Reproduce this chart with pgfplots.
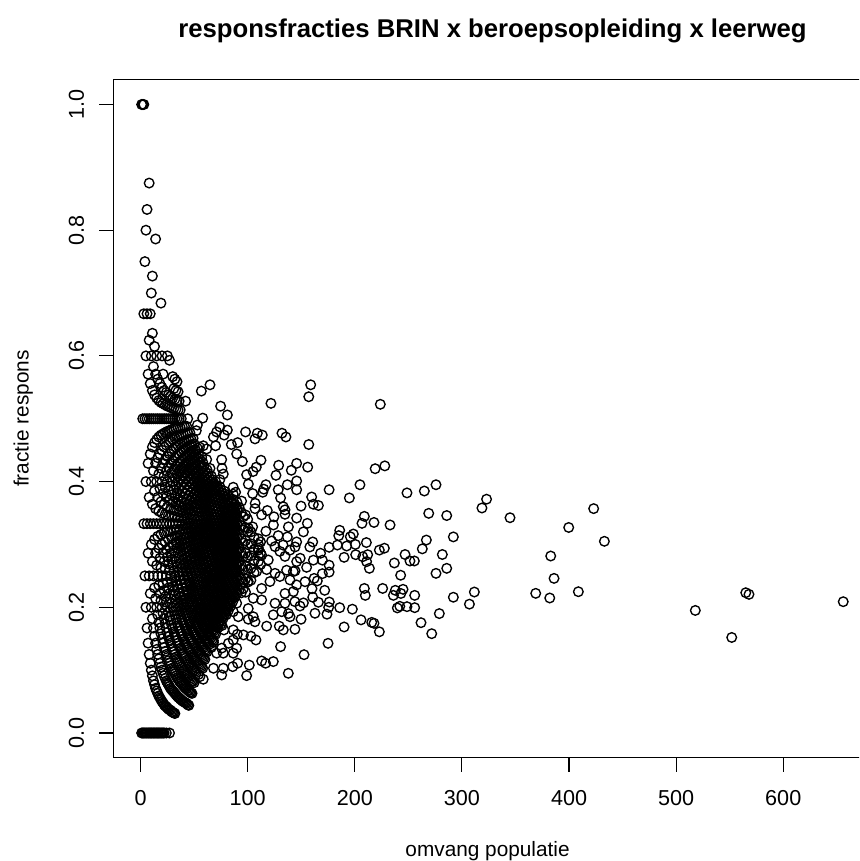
\documentclass[border=0pt]{standalone}
\usepackage{pgfplots}
\pgfplotsset{compat=1.18}
\usepackage{fontspec}
\setmainfont{Liberation Sans}
\begin{document}
\begin{tikzpicture}[x=1pt,y=1pt]
\path[use as bounding box] (0,0) rectangle (429.5,430.5);
\clip (0,0) rectangle (429.5,430.5);
\begin{axis}[
  at={(56.75pt,51.65pt)},anchor=south west,
  scale only axis,width=379pt,height=339.1pt,
  xmin=-25.3,xmax=682.4,ymin=-0.0393,ymax=1.0398,
  axis line style={line width=.55pt,black},
  tick style={line width=.55pt,black},
  tick align=outside,major tick length=7pt,
  xtick pos=bottom,ytick pos=left,
  xtick={0,100,200,300,400,500,600},
  ytick={0,0.2,0.4,0.6,0.8,1},
  /pgf/number format/assume math mode=true,
  /pgf/number format/fixed,/pgf/number format/fixed zerofill,
  yticklabel={\pgfmathprintnumber[fixed,fixed zerofill,precision=1]{\tick}},
  xticklabel={\pgfmathprintnumber[fixed,precision=0,1000 sep={}]{\tick}},
  tick label style={font=\fontsize{10.8}{12}\selectfont},
  yticklabel style={rotate=90,anchor=center,yshift=11.5pt},
  xticklabel style={anchor=center,yshift=-13pt},
  xlabel={omvang populatie},ylabel={fractie respons},
  label style={font=\fontsize{10.4}{12}\selectfont},
  xlabel style={at={(axis description cs:0.4935,-0.1376)},anchor=center},
  ylabel style={at={(axis description cs:-0.119,0.5)},anchor=center,rotate=0},
  title={responsfracties BRIN x beroepsopleiding x leerweg},
  title style={font=\fontsize{12.85}{14}\selectfont\bfseries,at={(axis description cs:0.5,1.0538)},anchor=center,yshift=0pt},
  clip=false,
]
\addplot[only marks,mark=o,black,mark size=2.4pt,mark options={line width=.68pt,fill=none}] coordinates {
(1,0)(1,1)(2,0)(2,.5)(2,1)(3,0)(3,.333)(3,.667)(3,1)
(4,0)(4,.25)(4,.5)(4,.75)(5,0)(5,.2)(5,.4)(5,.6)(5,.8)
(6,0)(6,.167)(6,.333)(6,.5)(6,.667)(6,.833)
(7,0)(7,.143)(7,.286)(7,.429)(7,.571)
(8,0)(8,.125)(8,.25)(8,.375)(8,.5)(8,.625)(8,.875)
(9,0)(9,.111)(9,.222)(9,.333)(9,.444)(9,.556)(9,.667)
(10,0)(10,.1)(10,.2)(10,.3)(10,.4)(10,.5)(10,.6)(10,.7)
(11,0)(11,.091)(11,.182)(11,.273)(11,.364)(11,.455)(11,.545)(11,.636)(11,.727)
(12,0)(12,.083)(12,.167)(12,.25)(12,.333)(12,.417)(12,.5)(12,.583)
(13,0)(13,.077)(13,.154)(13,.231)(13,.308)(13,.385)(13,.462)(13,.538)(13,.615)
(14,0)(14,.071)(14,.143)(14,.214)(14,.286)(14,.357)(14,.429)(14,.5)(14,.571)(14,.786)
(15,0)(15,.067)(15,.133)(15,.2)(15,.267)(15,.333)(15,.4)(15,.467)(15,.533)(15,.6)
(16,0)(16,.063)(16,.125)(16,.188)(16,.25)(16,.313)(16,.375)(16,.438)(16,.5)(16,.563)
(17,0)(17,.059)(17,.118)(17,.176)(17,.235)(17,.294)(17,.353)(17,.412)(17,.471)(17,.529)
(18,0)(18,.056)(18,.111)(18,.167)(18,.222)(18,.278)(18,.333)(18,.389)(18,.444)(18,.5)(18,.556)
(19,0)(19,.053)(19,.105)(19,.158)(19,.211)(19,.263)(19,.316)(19,.368)(19,.421)(19,.474)(19,.526)(19,.684)
(20,0)(20,.05)(20,.1)(20,.15)(20,.2)(20,.25)(20,.3)(20,.35)(20,.4)(20,.45)(20,.5)(20,.55)(20,.6)
(21,0)(21,.048)(21,.095)(21,.143)(21,.19)(21,.238)(21,.286)(21,.333)(21,.381)(21,.429)(21,.476)(21,.524)(21,.571)
(22,0)(22,.045)(22,.091)(22,.136)(22,.182)(22,.227)(22,.273)(22,.318)(22,.364)(22,.409)(22,.455)(22,.5)(22,.545)
(23,.043)(23,.087)(23,.13)(23,.174)(23,.217)(23,.261)(23,.304)(23,.348)(23,.391)(23,.435)(23,.478)(23,.522)
(24,0)(24,.042)(24,.083)(24,.125)(24,.167)(24,.208)(24,.25)(24,.292)(24,.333)(24,.375)(24,.417)(24,.458)(24,.5)(24,.542)
(25,.04)(25,.08)(25,.12)(25,.16)(25,.2)(25,.24)(25,.28)(25,.32)(25,.36)(25,.4)(25,.44)(25,.48)(25,.52)(25,.6)
(26,.038)(26,.077)(26,.115)(26,.154)(26,.192)(26,.231)(26,.269)(26,.308)(26,.346)(26,.385)(26,.423)(26,.462)(26,.5)(26,.538)
(27,0)(27,.037)(27,.074)(27,.111)(27,.148)(27,.185)(27,.222)(27,.259)(27,.296)(27,.333)(27,.37)(27,.407)(27,.444)(27,.481)(27,.519)(27,.593)
(28,.036)(28,.071)(28,.107)(28,.143)(28,.179)(28,.214)(28,.25)(28,.286)(28,.321)(28,.357)(28,.393)(28,.429)(28,.464)(28,.5)(28,.536)
(29,.034)(29,.069)(29,.103)(29,.138)(29,.172)(29,.207)(29,.241)(29,.276)(29,.31)(29,.345)(29,.379)(29,.414)(29,.448)(29,.483)(29,.517)
(30,.033)(30,.067)(30,.1)(30,.133)(30,.167)(30,.2)(30,.233)(30,.267)(30,.3)(30,.333)(30,.367)(30,.4)(30,.433)(30,.467)(30,.5)(30,.533)(30,.567)
(31,.032)(31,.065)(31,.097)(31,.129)(31,.161)(31,.194)(31,.226)(31,.258)(31,.29)(31,.323)(31,.355)(31,.387)(31,.419)(31,.452)(31,.484)(31,.516)(31,.548)
(32,.031)(32,.063)(32,.094)(32,.125)(32,.156)(32,.188)(32,.219)(32,.25)(32,.281)(32,.313)(32,.344)(32,.375)(32,.406)(32,.438)(32,.469)(32,.5)(32,.531)(32,.563)
(33,.061)(33,.091)(33,.121)(33,.152)(33,.182)(33,.212)(33,.242)(33,.273)(33,.303)(33,.333)(33,.364)(33,.394)(33,.424)(33,.455)(33,.485)(33,.515)(33,.545)
(34,.059)(34,.088)(34,.118)(34,.147)(34,.176)(34,.206)(34,.235)(34,.265)(34,.294)(34,.324)(34,.353)(34,.382)(34,.412)(34,.441)(34,.471)(34,.5)(34,.529)(34,.559)
(35,.057)(35,.086)(35,.114)(35,.143)(35,.171)(35,.2)(35,.229)(35,.257)(35,.286)(35,.314)(35,.343)(35,.371)(35,.4)(35,.429)(35,.457)(35,.486)(35,.514)(35,.543)
(36,.056)(36,.083)(36,.111)(36,.139)(36,.167)(36,.194)(36,.222)(36,.25)(36,.278)(36,.306)(36,.333)(36,.361)(36,.389)(36,.417)(36,.444)(36,.472)(36,.5)(36,.528)
(37,.054)(37,.081)(37,.108)(37,.135)(37,.162)(37,.189)(37,.216)(37,.243)(37,.27)(37,.297)(37,.324)(37,.351)(37,.378)(37,.405)(37,.432)(37,.459)(37,.486)(37,.514)
(38,.053)(38,.079)(38,.105)(38,.132)(38,.158)(38,.184)(38,.211)(38,.237)(38,.263)(38,.289)(38,.316)(38,.342)(38,.368)(38,.395)(38,.421)(38,.447)(38,.474)(38,.5)
(39,.051)(39,.077)(39,.103)(39,.128)(39,.154)(39,.179)(39,.205)(39,.231)(39,.256)(39,.282)(39,.308)(39,.333)(39,.359)(39,.385)(39,.41)(39,.436)(39,.462)(39,.487)
(40,.05)(40,.075)(40,.1)(40,.125)(40,.15)(40,.175)(40,.2)(40,.225)(40,.25)(40,.275)(40,.3)(40,.325)(40,.35)(40,.375)(40,.4)(40,.425)(40,.45)(40,.475)
(41,.049)(41,.073)(41,.098)(41,.122)(41,.146)(41,.171)(41,.195)(41,.22)(41,.244)(41,.268)(41,.293)(41,.317)(41,.341)(41,.366)(41,.39)(41,.415)(41,.439)(41,.463)(41,.488)
(42,.048)(42,.071)(42,.095)(42,.119)(42,.143)(42,.167)(42,.19)(42,.214)(42,.238)(42,.262)(42,.286)(42,.31)(42,.333)(42,.357)(42,.381)(42,.405)(42,.429)(42,.452)(42,.476)(42,.528)
(43,.047)(43,.07)(43,.093)(43,.116)(43,.14)(43,.163)(43,.186)(43,.209)(43,.233)(43,.256)(43,.279)(43,.302)(43,.326)(43,.349)(43,.372)(43,.395)(43,.419)(43,.442)(43,.465)(43,.488)
(44,.045)(44,.068)(44,.091)(44,.114)(44,.136)(44,.159)(44,.182)(44,.205)(44,.227)(44,.25)(44,.273)(44,.295)(44,.318)(44,.341)(44,.364)(44,.386)(44,.409)(44,.432)(44,.455)(44,.477)(44,.5)
(45,.044)(45,.067)(45,.089)(45,.111)(45,.133)(45,.156)(45,.178)(45,.2)(45,.222)(45,.244)(45,.267)(45,.289)(45,.311)(45,.333)(45,.356)(45,.378)(45,.4)(45,.422)(45,.444)(45,.467)
(46,.065)(46,.087)(46,.109)(46,.13)(46,.152)(46,.174)(46,.196)(46,.217)(46,.239)(46,.261)(46,.283)(46,.304)(46,.326)(46,.348)(46,.37)(46,.391)(46,.413)(46,.435)(46,.457)(46,.478)
(47,.064)(47,.085)(47,.106)(47,.128)(47,.149)(47,.17)(47,.191)(47,.213)(47,.234)(47,.255)(47,.277)(47,.298)(47,.319)(47,.34)(47,.362)(47,.383)(47,.404)(47,.426)(47,.447)(47,.468)
(48,.063)(48,.083)(48,.104)(48,.125)(48,.146)(48,.167)(48,.188)(48,.208)(48,.229)(48,.25)(48,.271)(48,.292)(48,.313)(48,.333)(48,.354)(48,.375)(48,.396)(48,.417)(48,.438)(48,.458)
(49,.082)(49,.102)(49,.122)(49,.143)(49,.163)(49,.184)(49,.204)(49,.224)(49,.245)(49,.265)(49,.286)(49,.306)(49,.327)(49,.347)(49,.367)(49,.388)(49,.408)(49,.429)(49,.449)(49,.469)
(50,.08)(50,.1)(50,.12)(50,.14)(50,.16)(50,.18)(50,.2)(50,.22)(50,.24)(50,.26)(50,.28)(50,.3)(50,.32)(50,.34)(50,.36)(50,.38)(50,.4)(50,.42)(50,.44)(50,.46)
(51,.098)(51,.118)(51,.137)(51,.157)(51,.176)(51,.196)(51,.216)(51,.235)(51,.255)(51,.275)(51,.294)(51,.314)(51,.333)(51,.353)(51,.373)(51,.392)(51,.412)(51,.431)(51,.451)
(52,.096)(52,.115)(52,.135)(52,.154)(52,.173)(52,.192)(52,.212)(52,.231)(52,.25)(52,.269)(52,.288)(52,.308)(52,.327)(52,.346)(52,.365)(52,.385)(52,.404)(52,.423)(52,.442)(52,.481)
(53,.113)(53,.132)(53,.151)(53,.17)(53,.189)(53,.208)(53,.226)(53,.245)(53,.264)(53,.283)(53,.302)(53,.321)(53,.34)(53,.358)(53,.377)(53,.396)(53,.415)(53,.434)(53,.453)
(54,.093)(54,.111)(54,.13)(54,.148)(54,.167)(54,.185)(54,.204)(54,.222)(54,.241)(54,.259)(54,.278)(54,.296)(54,.315)(54,.333)(54,.352)(54,.37)(54,.389)(54,.407)(54,.426)(54,.444)
(55,.109)(55,.127)(55,.145)(55,.164)(55,.182)(55,.2)(55,.218)(55,.236)(55,.255)(55,.273)(55,.291)(55,.309)(55,.327)(55,.345)(55,.364)(55,.382)(55,.4)(55,.418)(55,.436)(55,.455)
(56,.107)(56,.125)(56,.143)(56,.161)(56,.179)(56,.196)(56,.214)(56,.232)(56,.25)(56,.268)(56,.286)(56,.304)(56,.321)(56,.339)(56,.357)(56,.375)(56,.393)(56,.411)(56,.429)
(57,.105)(57,.123)(57,.14)(57,.158)(57,.175)(57,.193)(57,.211)(57,.228)(57,.246)(57,.263)(57,.281)(57,.298)(57,.316)(57,.333)(57,.351)(57,.368)(57,.386)(57,.404)(57,.421)(57,.439)
(58,.103)(58,.121)(58,.138)(58,.155)(58,.172)(58,.19)(58,.207)(58,.224)(58,.241)(58,.259)(58,.276)(58,.293)(58,.31)(58,.328)(58,.345)(58,.362)(58,.379)(58,.397)(58,.414)(58,.431)
(59,.119)(59,.136)(59,.153)(59,.169)(59,.186)(59,.203)(59,.22)(59,.237)(59,.254)(59,.271)(59,.288)(59,.305)(59,.322)(59,.339)(59,.356)(59,.373)(59,.39)(59,.407)(59,.424)
(60,.117)(60,.133)(60,.15)(60,.167)(60,.183)(60,.2)(60,.217)(60,.233)(60,.25)(60,.267)(60,.283)(60,.3)(60,.317)(60,.333)(60,.35)(60,.367)(60,.383)(60,.4)(60,.417)
(61,.131)(61,.148)(61,.164)(61,.18)(61,.197)(61,.213)(61,.23)(61,.246)(61,.262)(61,.279)(61,.295)(61,.311)(61,.328)(61,.344)(61,.361)(61,.377)(61,.393)(61,.41)
(62,.129)(62,.145)(62,.161)(62,.177)(62,.194)(62,.21)(62,.226)(62,.242)(62,.258)(62,.274)(62,.29)(62,.306)(62,.323)(62,.339)(62,.355)(62,.371)(62,.387)(62,.403)(62,.419)
(63,.143)(63,.159)(63,.175)(63,.19)(63,.206)(63,.222)(63,.238)(63,.254)(63,.27)(63,.286)(63,.302)(63,.317)(63,.333)(63,.349)(63,.365)(63,.381)(63,.397)(63,.413)
(64,.141)(64,.156)(64,.172)(64,.188)(64,.203)(64,.219)(64,.234)(64,.25)(64,.266)(64,.281)(64,.297)(64,.313)(64,.328)(64,.344)(64,.359)(64,.375)(64,.391)(64,.406)
(65,.154)(65,.169)(65,.185)(65,.2)(65,.215)(65,.231)(65,.246)(65,.262)(65,.277)(65,.292)(65,.308)(65,.323)(65,.338)(65,.354)(65,.369)(65,.385)(65,.4)
(66,.136)(66,.152)(66,.167)(66,.182)(66,.197)(66,.212)(66,.227)(66,.242)(66,.258)(66,.273)(66,.288)(66,.303)(66,.318)(66,.333)(66,.348)(66,.364)(66,.379)(66,.394)(66,.409)
(67,.149)(67,.164)(67,.179)(67,.194)(67,.209)(67,.224)(67,.239)(67,.254)(67,.269)(67,.284)(67,.299)(67,.313)(67,.328)(67,.343)(67,.358)(67,.373)(67,.388)(67,.403)
(68,.147)(68,.162)(68,.176)(68,.191)(68,.206)(68,.221)(68,.235)(68,.25)(68,.265)(68,.279)(68,.294)(68,.309)(68,.324)(68,.338)(68,.353)(68,.368)(68,.382)(68,.397)
(69,.159)(69,.174)(69,.188)(69,.203)(69,.217)(69,.232)(69,.246)(69,.261)(69,.275)(69,.29)(69,.304)(69,.319)(69,.333)(69,.348)(69,.362)(69,.377)(69,.391)
(70,.157)(70,.171)(70,.186)(70,.2)(70,.214)(70,.229)(70,.243)(70,.257)(70,.271)(70,.286)(70,.3)(70,.314)(70,.329)(70,.343)(70,.357)(70,.371)(70,.386)(70,.4)
(71,.169)(71,.183)(71,.197)(71,.211)(71,.225)(71,.239)(71,.254)(71,.268)(71,.282)(71,.296)(71,.31)(71,.324)(71,.338)(71,.352)(71,.366)(71,.38)(71,.394)
(72,.167)(72,.181)(72,.194)(72,.208)(72,.222)(72,.236)(72,.25)(72,.264)(72,.278)(72,.292)(72,.306)(72,.319)(72,.333)(72,.347)(72,.361)(72,.375)(72,.389)
(73,.178)(73,.192)(73,.205)(73,.219)(73,.233)(73,.247)(73,.26)(73,.274)(73,.288)(73,.301)(73,.315)(73,.329)(73,.342)(73,.356)(73,.37)(73,.384)
(74,.176)(74,.189)(74,.203)(74,.216)(74,.23)(74,.243)(74,.257)(74,.27)(74,.284)(74,.297)(74,.311)(74,.324)(74,.338)(74,.351)(74,.365)(74,.378)(74,.392)
(75,.173)(75,.187)(75,.2)(75,.213)(75,.227)(75,.24)(75,.253)(75,.267)(75,.28)(75,.293)(75,.307)(75,.32)(75,.333)(75,.347)(75,.36)(75,.373)(75,.387)
(76,.171)(76,.184)(76,.197)(76,.211)(76,.224)(76,.237)(76,.25)(76,.263)(76,.276)(76,.289)(76,.303)(76,.316)(76,.329)(76,.342)(76,.355)(76,.368)(76,.382)
(77,.182)(77,.195)(77,.208)(77,.221)(77,.234)(77,.247)(77,.26)(77,.273)(77,.286)(77,.299)(77,.312)(77,.325)(77,.338)(77,.351)(77,.364)(77,.377)
(78,.192)(78,.205)(78,.218)(78,.231)(78,.244)(78,.256)(78,.269)(78,.282)(78,.295)(78,.308)(78,.321)(78,.333)(78,.346)(78,.359)(78,.372)(78,.385)
(79,.19)(79,.203)(79,.215)(79,.228)(79,.241)(79,.253)(79,.266)(79,.278)(79,.291)(79,.304)(79,.316)(79,.329)(79,.342)(79,.354)(79,.367)(79,.38)
(80,.188)(80,.2)(80,.213)(80,.225)(80,.238)(80,.25)(80,.263)(80,.275)(80,.288)(80,.3)(80,.313)(80,.325)(80,.338)(80,.35)(80,.363)(80,.375)
(81,.198)(81,.21)(81,.222)(81,.235)(81,.247)(81,.259)(81,.272)(81,.284)(81,.296)(81,.309)(81,.321)(81,.333)(81,.346)(81,.358)(81,.37)
(82,.195)(82,.207)(82,.22)(82,.232)(82,.244)(82,.256)(82,.268)(82,.281)(82,.293)(82,.305)(82,.317)(82,.329)(82,.341)(82,.354)(82,.366)(82,.378)
(83,.205)(83,.217)(83,.229)(83,.241)(83,.253)(83,.265)(83,.277)(83,.289)(83,.301)(83,.313)(83,.325)(83,.337)(83,.349)(83,.361)
(84,.202)(84,.214)(84,.226)(84,.238)(84,.25)(84,.262)(84,.274)(84,.286)(84,.298)(84,.31)(84,.321)(84,.333)(84,.345)(84,.357)(84,.369)
(85,.212)(85,.224)(85,.235)(85,.247)(85,.259)(85,.271)(85,.282)(85,.294)(85,.306)(85,.318)(85,.329)(85,.341)(85,.353)(85,.365)
(86,.209)(86,.221)(86,.233)(86,.244)(86,.256)(86,.267)(86,.279)(86,.291)(86,.302)(86,.314)(86,.326)(86,.337)(86,.349)(86,.36)(86,.372)
(87,.218)(87,.23)(87,.241)(87,.253)(87,.264)(87,.276)(87,.287)(87,.299)(87,.31)(87,.322)(87,.333)(87,.345)(87,.356)
(88,.216)(88,.227)(88,.239)(88,.25)(88,.261)(88,.273)(88,.284)(88,.295)(88,.307)(88,.318)(88,.33)(88,.341)(88,.352)(88,.364)
(89,.225)(89,.236)(89,.247)(89,.258)(89,.27)(89,.281)(89,.292)(89,.303)(89,.315)(89,.326)(89,.337)(89,.348)(89,.36)
(90,.222)(90,.233)(90,.244)(90,.256)(90,.267)(90,.278)(90,.289)(90,.3)(90,.311)(90,.322)(90,.333)(90,.344)(90,.356)(90,.367)
(92,.228)(92,.25)(92,.272)(92,.293)(92,.315)(92,.337)(92,.359)
(94,.223)(94,.245)(94,.266)(94,.287)(94,.309)(94,.33)(94,.351)
(96,.24)(96,.26)(96,.281)(96,.302)(96,.323)(96,.344)
(98,.224)(98,.245)(98,.265)(98,.286)(98,.306)(98,.327)(98,.347)
(100,.24)(100,.26)(100,.28)(100,.3)(100,.32)(100,.34)
(103,.243)(103,.262)(103,.282)(103,.301)(103,.32)
(106,.255)(106,.274)(106,.292)(106,.311)
(110,.273)(110,.282)(110,.291)(110,.3)(110,.309)
(112,.268)(112,.286)(112,.304)
% fringe, population 55 to 145
(64.8,.554)(56.7,.544)(121.7,.5245)(74.7,.52)(81,.506)(58,.501)(53,.49)(74,.487)(81,.482)(71,.479)(68,.471)(78,.474)(98,.479)(109,.477)(113.6,.474)(106.8,.468)(132,.477)(135.7,.471)(90.6,.462)(84.7,.459)(70,.457)(58.5,.457)(61.7,.452)(89.7,.444)(51.7,.442)(95,.432)(75.7,.435)(61.7,.435)(112.4,.434)(108,.423)(128.9,.426)(145.7,.429)(105,.416)(99,.411)(76,.421)(140.7,.418)(77.2,.412)(126.4,.41)(145.7,.401)(100.6,.396)(117,.395)(137,.395)(115,.388)(128.5,.387)(114,.383)(145.7,.387)(86.5,.391)(104.6,.381)(130.7,.374)(88.7,.383)(74,.403)(86.5,.38)(64.8,.421)(55.4,.426)(94.3,.369)(107,.3655)(133.2,.36)
(106.8,.357)(118.3,.354)(134.8,.355)(113,.347)(124.5,.344)(134.8,.348)(145.7,.342)(104.6,.328)(117,.321)(124,.331)(138,.328)(100.6,.326)(128.5,.314)(137,.312)(145.7,.304)(122.3,.3055)(133,.299)(110,.294)(113,.283)(125.5,.2965)(130,.289)(139.5,.291)(119.2,.2753)(134.8,.281)(145.7,.2727)(125.5,.254)(117.7,.26)(136.3,.259)(142.6,.257)(108.3,.257)(130,.249)(139.5,.2435)(100.5,.241)(120.8,.241)(145.7,.2356)(113,.23)(134.8,.222)(96,.23)(105.2,.2144)(113,.2117)(125.5,.2064)(134.8,.2064)(142.6,.225)(144,.209)(131.7,.193)(100.5,.198)(89.7,.2065)(86.5,.193)
(91.2,.185)(100.6,.181)(106.8,.177)(117.7,.17)(129.5,.17)(133.2,.164)(144.1,.165)(123.9,.188)(105.2,.185)(138,.19)(86.5,.164)(77.8,.164)(96,.156)(90.3,.157)(103,.154)(107.7,.148)(86.5,.148)(130.7,.1374)(89.7,.135)(86.5,.127)(113,.1146)(116.7,.111)(123.9,.1136)(90.6,.111)(101.5,.108)(137.9,.095)(99,.0913)(75.7,.0923)(86,.1056)(77.2,.103)(68,.103)(58.5,.0855)(55.4,.0897)(71,.127)(77.2,.127)(68,.144)(82,.1427)(75.7,.135)
% population above 145
(158.8,.554)(157,.535)(223.8,.523)(157,.459)(156,.423)(228,.425)(219,.4205)(176,.387)(204.8,.395)(194.9,.374)(159.7,.3755)(161.3,.364)(166,.362)(149.8,.361)(248.7,.382)(264.9,.385)(275.8,.395)(323,.372)(318.7,.358)(344.9,.3425)(269,.3495)(285.8,.346)(292,.312)(266.8,.307)(263,.293)(281.7,.284)(285.8,.262)(275.8,.254)(246.9,.284)(236.9,.2705)(251.5,.2737)(255.6,.2737)(242.8,.251)(208.9,.3447)(206.7,.3336)(217.9,.335)(232.9,.331)(210.8,.303)(227.6,.294)(222.9,.291)(185.9,.3225)(185,.314)(198.6,.3166)(195.8,.3123)(183.7,.299)(192.4,.2975)(200.5,.3)(176,.2955)(190,.2795)(200.8,.2837)(207.4,.2805)(212,.2837)(211,.2726)(213.6,.262)(208.9,.23)(209.8,.219)(226,.23)(237.8,.227)(245,.2286)(236,.219)(243,.222)(255.9,.219)(292,.216)(311.6,.2243)(307,.205)(239.7,.199)(242,.2016)(248.7,.201)(255.9,.1994)(278.9,.19)(261.8,.1755)(271.8,.158)(197.7,.197)(185.9,.1994)(205.8,.18)(215.8,.176)(217.9,.1745)(222.9,.161)(190,.1687)(175,.1427)(152.6,.1246)(171.9,.227)(160,.2296)(176.2,.2084)(175.6,.2)(174,.189)(162.8,.1905)(166,.208)(160.7,.216)(148.8,.202)(149.8,.181)
(176,.267)(176,.256)(169.7,.2535)(168,.286)(169.7,.275)(161.3,.275)(155.7,.3336)(152,.32)(160.7,.304)(158,.296)(149,.278)(155,.2636)(162,.246)(165,.242)(153.5,.2407)(144.2,.258)(152,.207)(139.5,.185)(144.2,.296)
(368.9,.2222)(382,.2148)(382.9,.2816)(386,.246)(399.7,.327)(408.7,.2248)(423,.357)(433,.305)(517.9,.195)(551.9,.152)(565,.2232)(568,.2206)(656,.2089)
};
\end{axis}
\end{tikzpicture}
\end{document}
